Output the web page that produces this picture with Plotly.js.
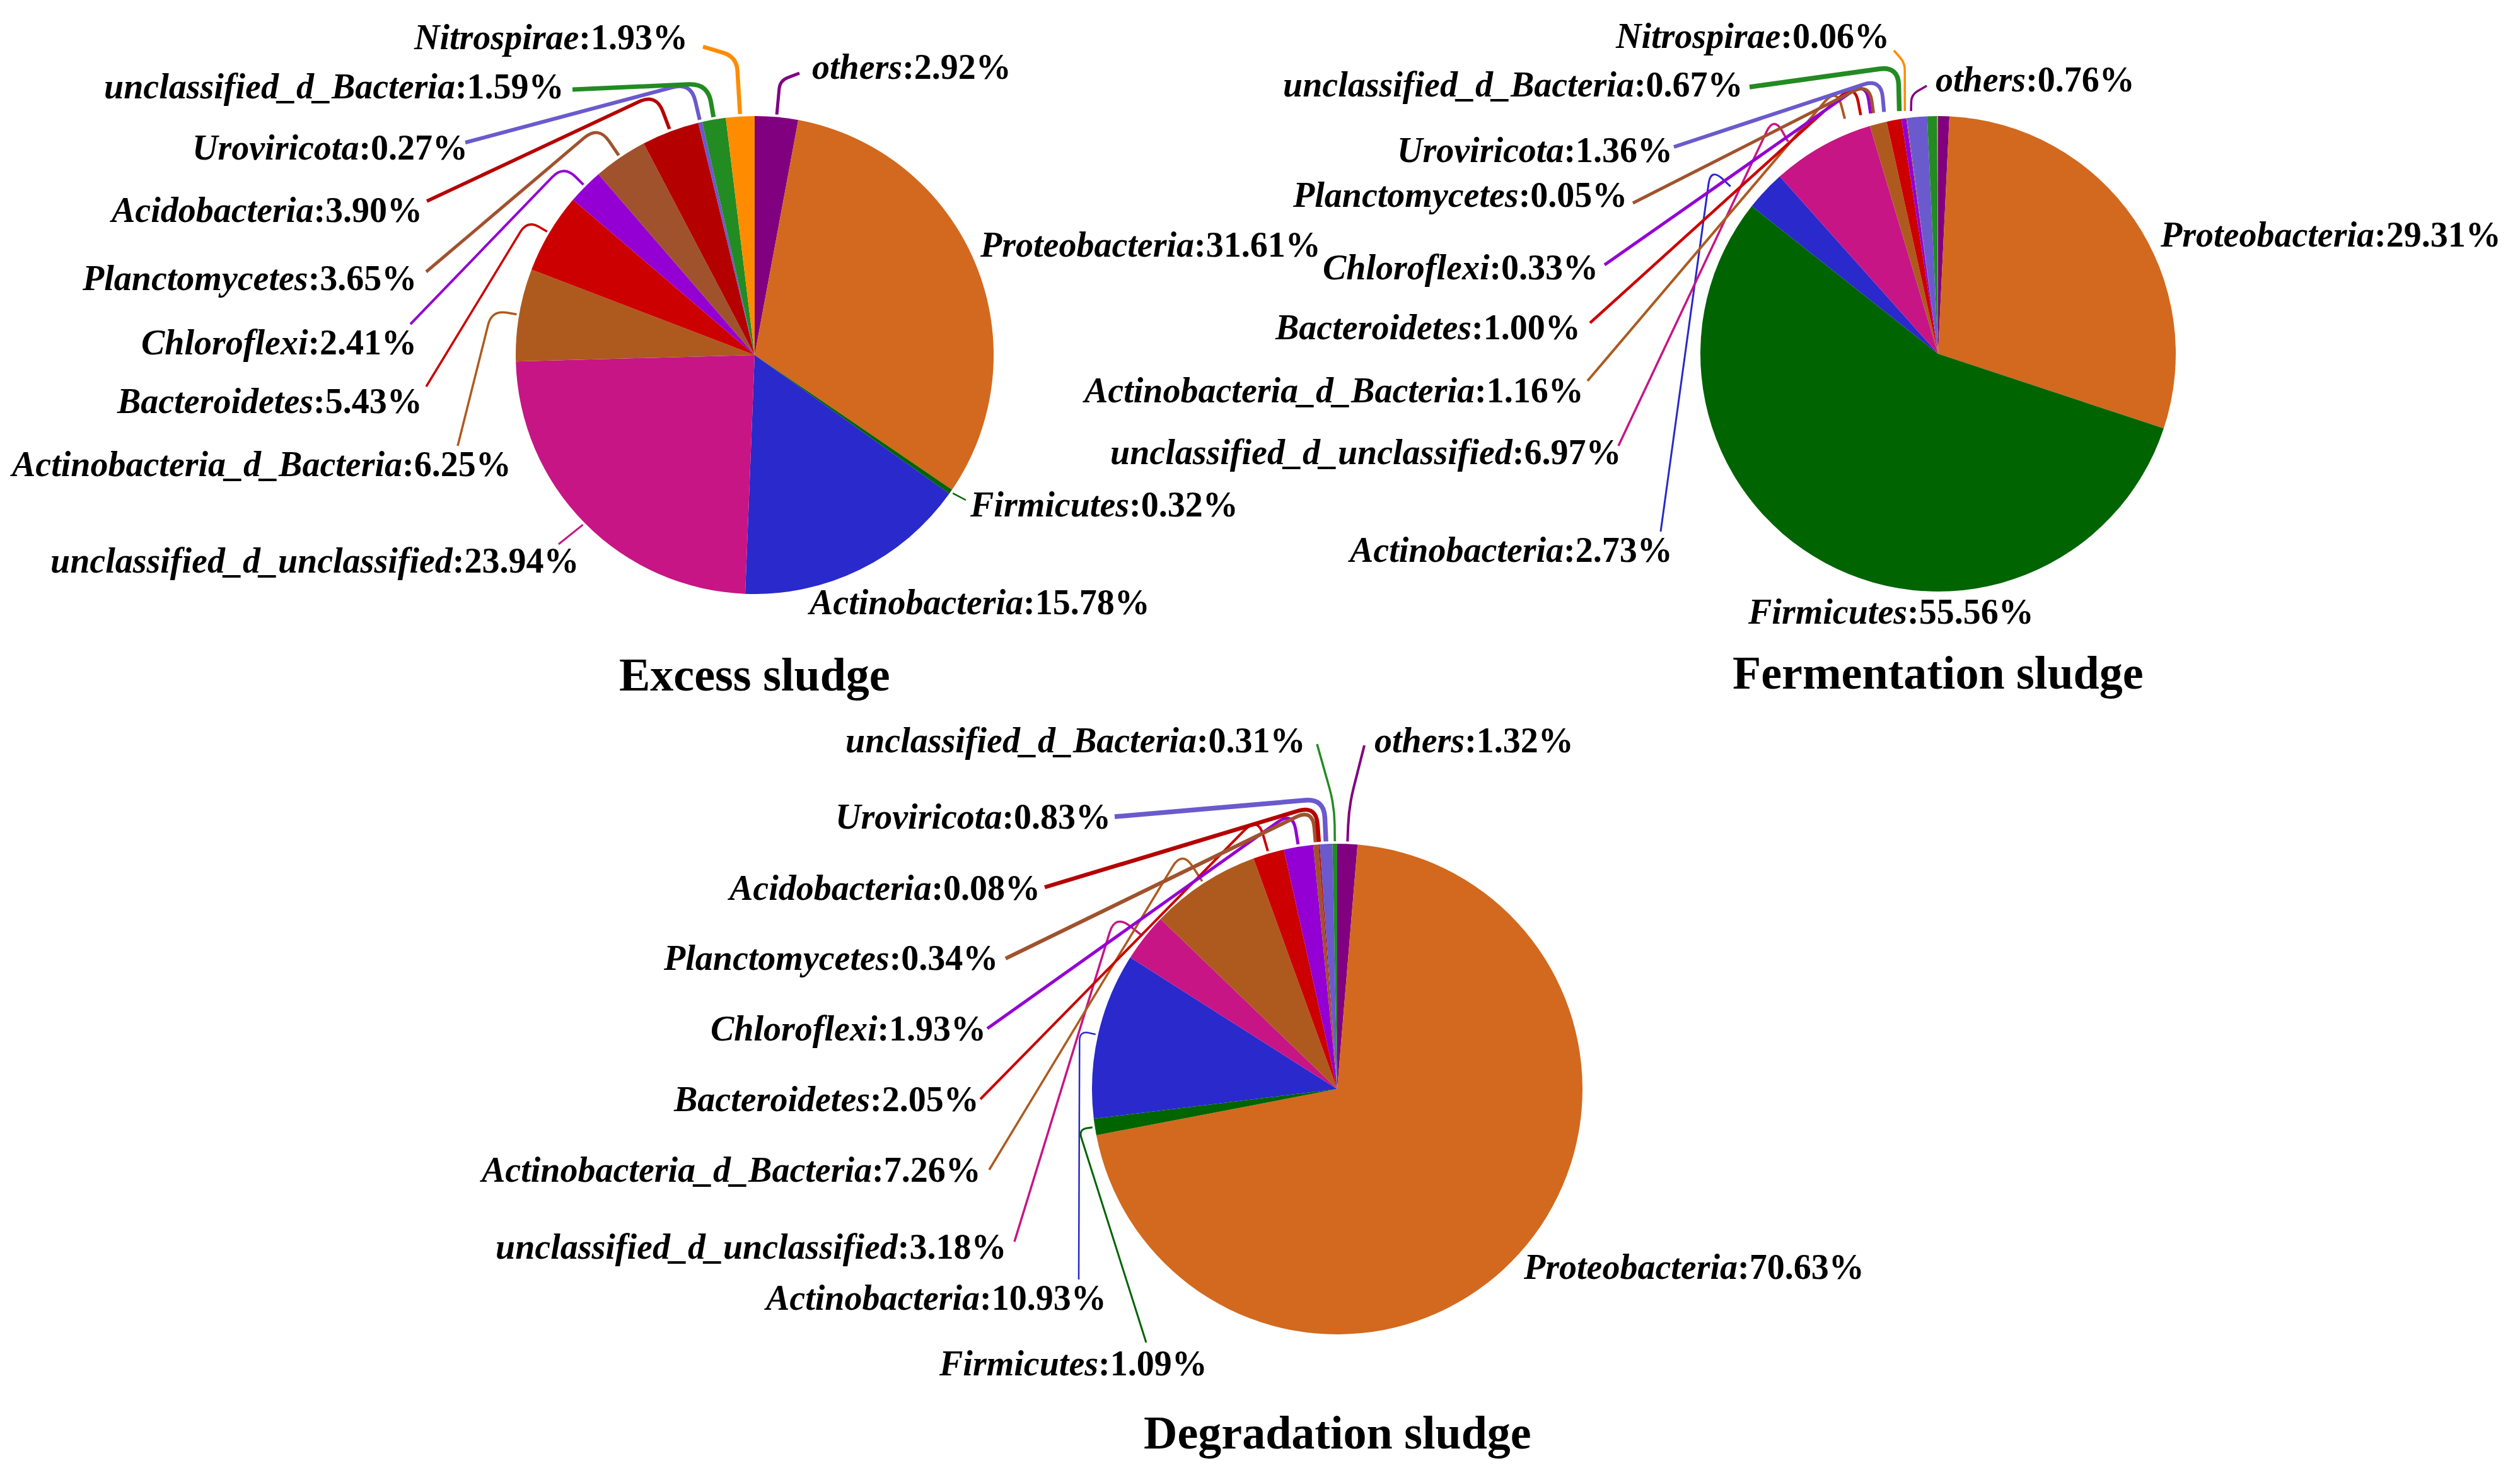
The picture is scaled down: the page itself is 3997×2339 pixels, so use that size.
<!DOCTYPE html>
<html>
<head>
<meta charset="utf-8">
<script src="https://cdn.plot.ly/plotly-3.0.1.min.js"></script>
<style>html,body{margin:0;padding:0;background:#fff;}</style>
</head>
<body>
<div id="chart" style="width:3997px;height:2339px;"></div>
<script>
// ---------------- DATA ----------------
const excessNames = ['others','Proteobacteria','Firmicutes','Actinobacteria','unclassified_d_unclassified','Actinobacteria_d_Bacteria','Bacteroidetes','Chloroflexi','Planctomycetes','Acidobacteria','Uroviricota','unclassified_d_Bacteria','Nitrospirae'];
const excessValues = [2.92,31.61,0.32,15.78,23.94,6.25,5.43,2.41,3.65,3.90,0.27,1.59,1.93];

const fermNames = ['others','Proteobacteria','Firmicutes','Actinobacteria','unclassified_d_unclassified','Actinobacteria_d_Bacteria','Bacteroidetes','Chloroflexi','Planctomycetes','Uroviricota','unclassified_d_Bacteria','Nitrospirae'];
const fermValues = [0.76,29.31,55.56,2.73,6.97,1.16,1.00,0.33,0.05,1.36,0.67,0.06];

const degrNames = ['others','Proteobacteria','Firmicutes','Actinobacteria','unclassified_d_unclassified','Actinobacteria_d_Bacteria','Bacteroidetes','Chloroflexi','Planctomycetes','Acidobacteria','Uroviricota','unclassified_d_Bacteria'];
const degrValues = [1.32,70.63,1.09,10.93,3.18,7.26,2.05,1.93,0.34,0.08,0.83,0.31];

const panelTitles = ['Excess sludge','Fermentation sludge','Degradation sludge'];

// ---------------- STYLE / LAYOUT ----------------
const W = 3997, H = 2339;
const colorOf = {
  'others':'#800080','Proteobacteria':'#D2691E','Firmicutes':'#006400','Actinobacteria':'#2929CC',
  'unclassified_d_unclassified':'#C71585','Actinobacteria_d_Bacteria':'#AE5A1E','Bacteroidetes':'#CC0000',
  'Chloroflexi':'#9400D3','Planctomycetes':'#A0522D','Acidobacteria':'#B50000','Uroviricota':'#6A5ACD',
  'unclassified_d_Bacteria':'#228B22','Nitrospirae':'#FF8C00'
};
// label placement: side (L = text right-aligned, R = left-aligned), text x, baseline, line attach point, first segment length, line width
const excessLabels = {
  'others':{s:'R',x:1286,b:125,a:[1268,116],L1:58,w:5},
  'Proteobacteria':{s:'R',x:1552,b:407},
  'Firmicutes':{s:'R',x:1536,b:819,a:[1532,793],L1:0,w:2.5},
  'Actinobacteria':{s:'R',x:1279,b:974},
  'unclassified_d_unclassified':{s:'L',x:920,b:908,a:[886,863],L1:0,w:3},
  'Actinobacteria_d_Bacteria':{s:'L',x:813,b:755,a:[726,707],L1:44,w:3.5},
  'Bacteroidetes':{s:'L',x:672,b:655,a:[676,613],L1:40,w:3.5},
  'Chloroflexi':{s:'L',x:663,b:562,a:[651,514],L1:48,w:4},
  'Planctomycetes':{s:'L',x:663,b:460,a:[676,431],L1:61,w:5},
  'Acidobacteria':{s:'L',x:672,b:352,a:[677,319],L1:64,w:5.5},
  'Uroviricota':{s:'L',x:744,b:253,a:[738,226],L1:65,w:6},
  'unclassified_d_Bacteria':{s:'L',x:897,b:156,a:[908,142],L1:58,w:7},
  'Nitrospirae':{s:'L',x:1093,b:78,a:[1115,74],L1:95,w:6.5}
};
const fermLabels = {
  'others':{s:'R',x:3068,b:145,a:[3056,136],L1:30,w:3.5},
  'Proteobacteria':{s:'R',x:3424,b:391},
  'Firmicutes':{s:'R',x:2770,b:989},
  'Actinobacteria':{s:'L',x:2655,b:891,a:[2634,843],L1:47,w:3},
  'unclassified_d_unclassified':{s:'L',x:2573,b:736,a:[2567,707],L1:50,w:3.5},
  'Actinobacteria_d_Bacteria':{s:'L',x:2514,b:638,a:[2518,604],L1:55,w:4},
  'Bacteroidetes':{s:'L',x:2509,b:538,a:[2522,512],L1:55,w:4.5},
  'Chloroflexi':{s:'L',x:2537,b:443,a:[2545,420],L1:55,w:5},
  'Planctomycetes':{s:'L',x:2583,b:328,a:[2590,322],L1:52,w:5},
  'Uroviricota':{s:'L',x:2655,b:257,a:[2655,233],L1:57,w:6},
  'unclassified_d_Bacteria':{s:'L',x:2767,b:153,a:[2775,138],L1:75,w:7.5},
  'Nitrospirae':{s:'L',x:2999,b:76,a:[3004,80],L1:80,w:3.5}
};
const degrLabels = {
  'others':{s:'R',x:2178,b:1193,a:[2164,1182],L1:60,w:4},
  'Proteobacteria':{s:'R',x:2414,b:2028},
  'Firmicutes':{s:'L',x:1917,b:2181,a:[1818,2129],L1:26,w:3},
  'Actinobacteria':{s:'L',x:1757,b:2077,a:[1711,2029],L1:30,w:2.5},
  'unclassified_d_unclassified':{s:'L',x:1598,b:1996,a:[1609,1969],L1:59,w:3.5},
  'Actinobacteria_d_Bacteria':{s:'L',x:1558,b:1874,a:[1569,1855],L1:62,w:3.5},
  'Bacteroidetes':{s:'L',x:1555,b:1762,a:[1555,1743],L1:61,w:4},
  'Chloroflexi':{s:'L',x:1566,b:1650,a:[1566,1631],L1:57,w:5},
  'Planctomycetes':{s:'L',x:1585,b:1538,a:[1595,1520],L1:57,w:6},
  'Acidobacteria':{s:'L',x:1652,b:1427,a:[1657,1407],L1:62,w:6.5},
  'Uroviricota':{s:'L',x:1764,b:1314,a:[1768,1295],L1:72,w:7.5},
  'unclassified_d_Bacteria':{s:'L',x:2073,b:1193,a:[2089,1180],L1:60,w:3.5}
};
const panels = [
  {names:excessNames, values:excessValues, cx:1197, cy:563, r:379, off:[0,0], labels:excessLabels, titleY:1095},
  {names:fermNames, values:fermValues, cx:3074, cy:561, r:377, off:[-52,-4], labels:fermLabels, titleY:1092},
  {names:degrNames, values:degrValues, cx:2121, cy:1727, r:389, off:[0,0], labels:degrLabels, titleY:2297}
];
const FONT = 'Liberation Serif, Times New Roman, serif';
const LABEL_SIZE = 56, TITLE_SIZE = 74;

const px = x => x / W;
const py = y => 1 - y / H;

function leaderPath(cx, cy, r, ang, L1, a) {
  const ux = Math.sin(ang), uy = -Math.cos(ang);
  const gap = 4;
  const S = [cx + (r + gap) * ux, cy + (r + gap) * uy];
  const f = p => px(p[0]) + ',' + py(p[1]);
  if (!L1) return 'M ' + f(S) + ' L ' + f(a);
  const P = [cx + (r + L1) * ux, cy + (r + L1) * uy];
  const d1 = Math.hypot(P[0] - S[0], P[1] - S[1]);
  const d2 = Math.hypot(a[0] - P[0], a[1] - P[1]);
  const rc = Math.min(30, d1 * 0.6, d2 * 0.4);
  const B = [P[0] - (P[0] - S[0]) / d1 * rc, P[1] - (P[1] - S[1]) / d1 * rc];
  const C = [P[0] + (a[0] - P[0]) / d2 * rc, P[1] + (a[1] - P[1]) / d2 * rc];
  return 'M ' + f(S) + ' L ' + f(B) + ' Q ' + f(P) + ' ' + f(C) + ' L ' + f(a);
}

const traces = [], shapes = [], annotations = [];
panels.forEach((p, i) => {
  traces.push({
    type: 'pie',
    labels: p.names,
    values: p.values,
    sort: false,
    direction: 'clockwise',
    rotation: 0,
    textinfo: 'none',
    hoverinfo: 'label+value',
    marker: {colors: p.names.map(n => colorOf[n]), line: {width: 0}},
    domain: {x: [px(p.cx - p.r), px(p.cx + p.r)], y: [py(p.cy + p.r), py(p.cy - p.r)]},
    showlegend: false
  });
  const total = p.values.reduce((s, v) => s + v, 0);
  let cum = 0;
  p.names.forEach((n, k) => {
    const v = p.values[k];
    const mid = (cum + v / 2) / total * 2 * Math.PI;
    cum += v;
    const L = p.labels[n];
    if (!L) return;
    annotations.push({
      xref: 'paper', yref: 'paper', showarrow: false,
      x: px(L.x), y: py(L.b - 0.3375 * LABEL_SIZE),
      xanchor: L.s === 'L' ? 'right' : 'left', yanchor: 'middle',
      text: '<b><i>' + n + '</i>:' + v.toFixed(2) + '%</b>',
      font: {family: FONT, size: LABEL_SIZE, color: '#000'}
    });
    if (L.a) {
      shapes.push({
        type: 'path', xref: 'paper', yref: 'paper',
        path: leaderPath(p.cx + p.off[0], p.cy + p.off[1], p.r, mid, L.L1, L.a),
        line: {color: colorOf[n], width: L.w}
      });
    }
  });
  annotations.push({
    xref: 'paper', yref: 'paper', showarrow: false,
    x: px(p.cx), y: py(p.titleY - 0.3375 * TITLE_SIZE),
    xanchor: 'center', yanchor: 'middle',
    text: '<b>' + panelTitles[i] + '</b>',
    font: {family: FONT, size: TITLE_SIZE, color: '#000'}
  });
});

Plotly.newPlot('chart', traces, {
  width: W, height: H,
  margin: {l: 0, r: 0, t: 0, b: 0},
  paper_bgcolor: '#fff', plot_bgcolor: '#fff',
  showlegend: false,
  shapes: shapes,
  annotations: annotations
}, {displayModeBar: false, staticPlot: true});
</script>
</body>
</html>
